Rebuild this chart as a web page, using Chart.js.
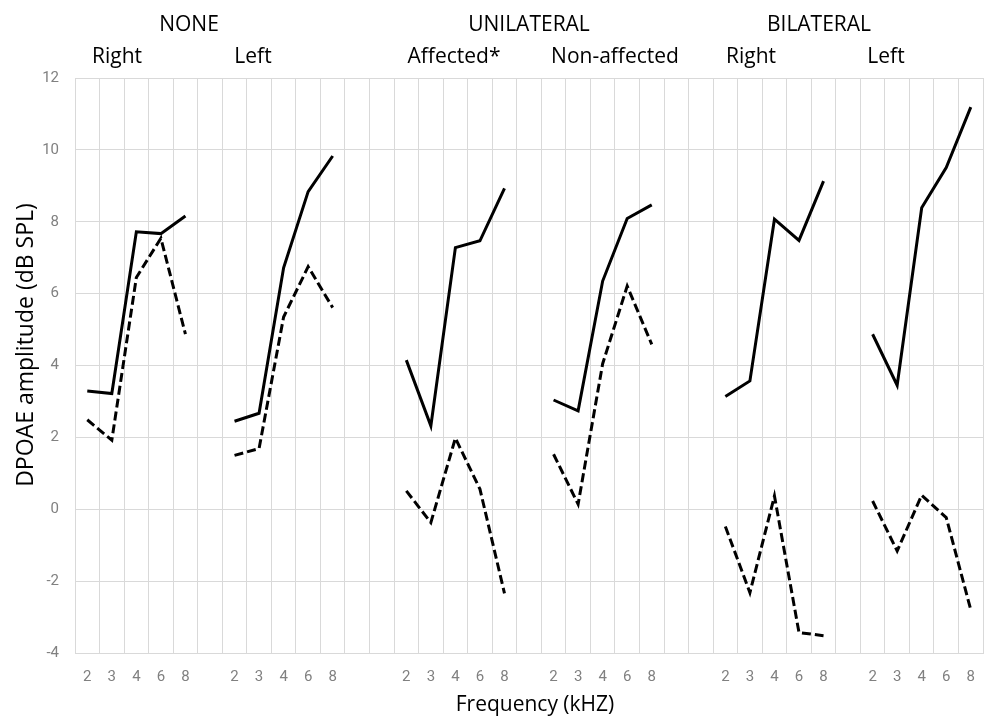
<!DOCTYPE html>
<html>
<head>
<meta charset="utf-8">
<script src="https://cdn.jsdelivr.net/npm/chart.js@4/dist/chart.umd.min.js"></script>
<style>
  html, body { margin: 0; padding: 0; background: #fff; }
  #wrap { width: 990px; height: 718px; }
</style>
</head>
<body>
<div id="wrap"><canvas id="DPOAE_CHART" width="990" height="718"></canvas></div>
<script>
// frequencies per ear group (kHz)
const freqs = ['2', '3', '4', '6', '8'];
// empty categories between the six groups
const gaps = [1, 2, 1, 2, 1];

// solid line and dashed line per group (dB SPL)
const noneRightSolid = [3.29, 3.22, 7.72, 7.67, 8.16];
const noneRightDashed = [2.49, 1.92, 6.45, 7.54, 4.87];
const noneLeftSolid = [2.45, 2.67, 6.72, 8.84, 9.83];
const noneLeftDashed = [1.50, 1.69, 5.35, 6.75, 5.61];
const affectedSolid = [4.15, 2.32, 7.28, 7.47, 8.93];
const affectedDashed = [0.51, -0.37, 1.98, 0.56, -2.34];
const nonAffectedSolid = [3.04, 2.74, 6.35, 8.09, 8.47];
const nonAffectedDashed = [1.53, 0.14, 4.05, 6.21, 4.59];
const bilatRightSolid = [3.14, 3.57, 8.07, 7.48, 9.13];
const bilatRightDashed = [-0.48, -2.32, 0.37, -3.43, -3.52];
const bilatLeftSolid = [4.87, 3.45, 8.39, 9.51, 11.19];
const bilatLeftDashed = [0.23, -1.16, 0.39, -0.23, -2.80];

const yTicks = [-4, -2, 0, 2, 4, 6, 8, 10, 12];

const groupTitles = ['NONE', 'UNILATERAL', 'BILATERAL'];
const earTitles = ['Right', 'Left', 'Affected*', 'Non-affected', 'Right', 'Left'];

const solidGroups = [noneRightSolid, noneLeftSolid, affectedSolid, nonAffectedSolid, bilatRightSolid, bilatLeftSolid];
const dashedGroups = [noneRightDashed, noneLeftDashed, affectedDashed, nonAffectedDashed, bilatRightDashed, bilatLeftDashed];

function joinGroups(groups, filler) {
    let out = [];
    groups.forEach((g, i) => {
        out = out.concat(g);
        if (i < gaps.length) {
            for (let k = 0; k < gaps[i]; k++) out.push(filler);
        }
    });
    return out;
}

const labels = joinGroups(solidGroups.map(() => freqs), '');
const solidData = joinGroups(solidGroups, null);
const dashedData = joinGroups(dashedGroups, null);

// header and axis texts, placed as in the original figure
const headerPlugin = {
    id: 'headers',
    afterDraw(chart) {
        const ctx = chart.ctx;
        ctx.save();
        ctx.fillStyle = '#000';
        ctx.textAlign = 'center';
        ctx.textBaseline = 'alphabetic';
        ctx.font = '21px "Open Sans"';
        const topX = [189, 529, 819];
        groupTitles.forEach((t, i) => ctx.fillText(t, topX[i], 31));
        const earX = [117, 253, 454, 615, 751, 886];
        earTitles.forEach((t, i) => ctx.fillText(t, earX[i], 63));

        ctx.fillText('Frequency (kHZ)', 535, 711);

        ctx.translate(33, 345);
        ctx.rotate(-Math.PI / 2);
        ctx.font = '23px "Open Sans"';
        ctx.fillText('DPOAE amplitude (dB SPL)', 0, 0);
        ctx.restore();
    }
};

const gridColor = '#d9d9d9';

new Chart(document.getElementById('DPOAE_CHART').getContext('2d'), {
    type: 'line',
    data: {
        labels: labels,
        datasets: [{
            label: 'solid',
            data: solidData,
            borderColor: '#000',
            borderWidth: 3,
            pointRadius: 0,
            tension: 0,
            spanGaps: false
        }, {
            label: 'dashed',
            data: dashedData,
            borderColor: '#000',
            borderWidth: 3,
            borderDash: [9, 4],
            pointRadius: 0,
            tension: 0,
            spanGaps: false
        }]
    },
    options: {
        responsive: false,
        animation: false,
        layout: { padding: { top: 78, right: 0, bottom: 0, left: 0 } },
        plugins: {
            legend: { display: false },
            tooltip: { enabled: false }
        },
        scales: {
            x: {
                offset: true,
                grid: { offset: true, color: gridColor, lineWidth: 1, drawTicks: false },
                border: { color: gridColor },
                ticks: {
                    autoSkip: false,
                    maxRotation: 0,
                    padding: 15,
                    color: '#808080',
                    font: { family: 'Roboto', size: 15 }
                },
                afterFit: (scale) => { scale.height = 65; }
            },
            y: {
                min: -4,
                max: 12,
                afterBuildTicks: (scale) => { scale.ticks = yTicks.map(v => ({ value: v })); },
                grid: { color: gridColor, lineWidth: 1, drawTicks: false },
                border: { display: false },
                ticks: {
                    padding: 16,
                    color: '#808080',
                    font: { family: 'Roboto', size: 15 }
                },
                afterFit: (scale) => { scale.width = 75; }
            }
        }
    },
    plugins: [headerPlugin]
});
</script>
</body>
</html>
